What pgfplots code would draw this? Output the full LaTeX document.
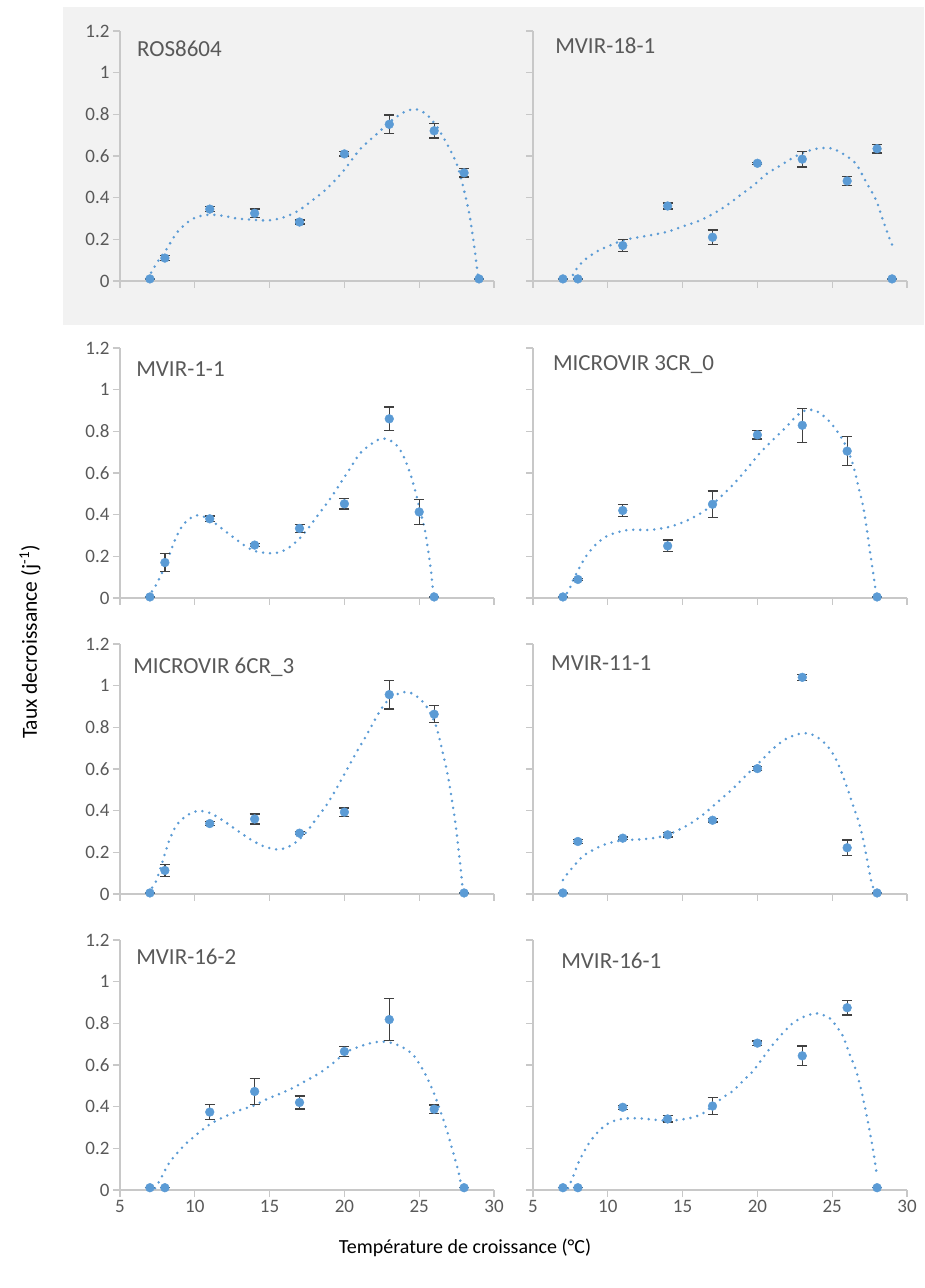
\documentclass[border=0pt]{standalone}
\usepackage{fontspec}
\setmainfont{Carlito}
\usepackage{pgfplots}
\pgfplotsset{compat=1.18}
\definecolor{ptblue}{HTML}{5B9BD5}
\definecolor{axisgray}{HTML}{C8C8C8}
\definecolor{labelgray}{HTML}{595959}
\definecolor{errgray}{HTML}{404040}
\definecolor{bggray}{HTML}{F2F2F2}
\pgfplotsset{
  panel/.style={
    scale only axis, width=374pt, height=250pt,
    xmin=5, xmax=30, ymin=0, ymax=1.2, enlargelimits=false,
    axis lines=left,
    axis line style={draw=axisgray, line width=1.2pt, -},
    x axis line style={-}, y axis line style={-},
    tick style={draw=axisgray, line width=1.2pt},
    tick align=outside, xtick align=outside, ytick align=outside,
    major tick length=7pt,
    xtick={5,10,15,20,25,30},
    ytick={0,0.2,0.4,0.6,0.8,1,1.2},
    tick label style={font=\fontsize{19}{21}\selectfont, text=labelgray},
    /pgf/number format/assume math mode=true,
    clip=false,
  },
  pts/.style={only marks, mark=*, mark size=4.4pt, mark options={fill=ptblue, draw=ptblue},
    error bars/.cd, y dir=both, y explicit,
    error bar style={draw=errgray, line width=1.3pt},
    error mark options={rotate=90, mark size=5pt, draw=errgray, line width=1.3pt}},
  trend/.style={smooth, draw=ptblue, line width=2.8pt, line cap=round, dash pattern=on 0pt off 7pt},
}
\newcommand{\ptitle}[3]{\node[anchor=west, inner sep=0pt, font=\fontsize{23}{26}\selectfont, text=labelgray] at (rel axis cs:#1,#2) {#3};}
\begin{document}
\begin{tikzpicture}
\useasboundingbox (0pt,0pt) rectangle (924pt,1288pt);
\fill[bggray] (63pt,963pt) rectangle (924pt,1281pt);

% Row 1 left: ROS8604
\begin{axis}[panel, at={(120pt,1007pt)}, anchor=south west, xticklabels={}]
\addplot[trend] coordinates {(6.85,0.011)(7.45,0.085)(8.12,0.154)(8.78,0.23)(9.45,0.278)(10.12,0.307)(10.97,0.318)(11.9,0.313)(12.79,0.30)(13.9,0.294)(15.02,0.291)(16.13,0.31)(17.02,0.342)(17.91,0.39)(18.81,0.442)(19.92,0.527)(21.03,0.631)(22.14,0.704)(23.25,0.776)(24.15,0.816)(24.81,0.824)(25.48,0.80)(26.15,0.744)(26.82,0.663)(27.48,0.567)(27.93,0.455)(28.38,0.31)(28.71,0.149)(28.95,0.011)};
\addplot[pts] coordinates {(7,0.01)+-(0,0)(8,0.11)+-(0,0.012)(11,0.345)+-(0,0.012)(14,0.325)+-(0,0.02)(17,0.283)+-(0,0.01)(20,0.61)+-(0,0.01)(23,0.752)+-(0,0.045)(26,0.721)+-(0,0.035)(28,0.519)+-(0,0.02)(29,0.01)+-(0,0)};
\ptitle{0.045}{0.93}{ROS8604}
\end{axis}

% Row 1 right: MVIR-18-1
\begin{axis}[panel, at={(533pt,1007pt)}, anchor=south west, xticklabels={}, yticklabels={}]
\addplot[trend] coordinates {(7.67,0.029)(8.01,0.068)(8.57,0.108)(9.23,0.14)(9.9,0.163)(11.02,0.195)(11.91,0.208)(12.8,0.219)(13.91,0.235)(15.03,0.262)(16.14,0.29)(17.03,0.322)(17.93,0.362)(18.82,0.41)(19.71,0.457)(20.6,0.513)(21.49,0.552)(22.38,0.592)(23.27,0.621)(24.16,0.637)(25.05,0.635)(25.94,0.60)(26.61,0.56)(27.28,0.473)(27.95,0.386)(28.4,0.29)(28.84,0.203)(29.11,0.156)};
\addplot[pts] coordinates {(7,0.01)+-(0,0)(8,0.01)+-(0,0)(11,0.17)+-(0,0.03)(14,0.36)+-(0,0.015)(17,0.21)+-(0,0.035)(20,0.565)+-(0,0.005)(23,0.585)+-(0,0.038)(26,0.48)+-(0,0.02)(28,0.635)+-(0,0.02)(29,0.01)+-(0,0)};
\ptitle{0.059}{0.94}{MVIR-18-1}
\end{axis}

% Row 2 left: MVIR-1-1
\begin{axis}[panel, at={(120pt,690pt)}, anchor=south west, xticklabels={}]
\addplot[trend] coordinates {(6.85,0.005)(7.34,0.053)(7.89,0.134)(8.34,0.215)(8.78,0.296)(9.23,0.353)(9.67,0.381)(10.16,0.397)(10.79,0.385)(11.46,0.353)(12.12,0.316)(12.79,0.28)(13.46,0.245)(14.13,0.223)(15.02,0.215)(15.69,0.22)(16.35,0.245)(17.04,0.288)(17.69,0.345)(18.36,0.41)(19.03,0.474)(19.7,0.547)(20.36,0.62)(21.03,0.693)(21.7,0.734)(22.37,0.763)(22.92,0.761)(23.48,0.734)(23.92,0.685)(24.37,0.604)(24.7,0.523)(25.04,0.426)(25.37,0.329)(25.59,0.232)(25.81,0.118)(25.95,0.005)};
\addplot[pts] coordinates {(7,0.005)+-(0,0)(8,0.17)+-(0,0.043)(11,0.38)+-(0,0.013)(14,0.254)+-(0,0.006)(17,0.334)+-(0,0.02)(20,0.452)+-(0,0.025)(23,0.86)+-(0,0.057)(25,0.413)+-(0,0.06)(26,0.005)+-(0,0)};
\ptitle{0.043}{0.915}{MVIR-1-1}
\end{axis}

% Row 2 right: MICROVIR 3CR_0
\begin{axis}[panel, at={(533pt,690pt)}, anchor=south west, xticklabels={}, yticklabels={}]
\addplot[trend] coordinates {(6.89,0.005)(7.34,0.029)(7.67,0.084)(8.12,0.148)(8.57,0.203)(9.23,0.259)(9.9,0.295)(10.57,0.314)(11.46,0.327)(12.8,0.327)(13.91,0.338)(14.8,0.357)(15.7,0.386)(16.59,0.425)(17.48,0.481)(18.37,0.544)(19.26,0.616)(20.15,0.695)(21.04,0.759)(21.94,0.822)(22.6,0.873)(23.27,0.902)(23.94,0.897)(24.61,0.862)(25.28,0.806)(25.94,0.727)(26.39,0.64)(26.72,0.544)(27.06,0.441)(27.28,0.346)(27.5,0.235)(27.73,0.124)(27.95,0.013)};
\addplot[pts] coordinates {(7,0.005)+-(0,0)(8,0.089)+-(0,0.006)(11,0.42)+-(0,0.03)(14,0.25)+-(0,0.028)(17,0.45)+-(0,0.063)(20,0.783)+-(0,0.02)(23,0.829)+-(0,0.082)(26,0.705)+-(0,0.07)(28,0.005)+-(0,0)};
\ptitle{0.053}{0.935}{MICROVIR 3CR\_0}
\end{axis}

% Row 3 left: MICROVIR 6CR_3
\begin{axis}[panel, at={(120pt,394pt)}, anchor=south west, xticklabels={}]
\addplot[trend] coordinates {(6.85,0.005)(7.34,0.051)(7.67,0.115)(8.01,0.195)(8.34,0.266)(8.78,0.33)(9.34,0.37)(9.9,0.393)(10.34,0.399)(11.01,0.389)(11.68,0.362)(12.35,0.33)(13.13,0.29)(13.91,0.254)(14.68,0.227)(15.46,0.214)(16.13,0.222)(16.8,0.251)(17.47,0.298)(18.13,0.362)(18.8,0.426)(19.47,0.506)(20.14,0.594)(20.81,0.681)(21.47,0.761)(22.14,0.849)(22.7,0.913)(23.25,0.948)(23.92,0.969)(24.48,0.964)(25.04,0.937)(25.59,0.889)(26.15,0.801)(26.59,0.673)(26.93,0.562)(27.26,0.418)(27.48,0.306)(27.71,0.163)(27.89,0.035)};
\addplot[pts] coordinates {(7,0.005)+-(0,0)(8,0.113)+-(0,0.028)(11,0.338)+-(0,0.01)(14,0.36)+-(0,0.024)(17,0.292)+-(0,0.007)(20,0.393)+-(0,0.02)(23,0.957)+-(0,0.069)(26,0.863)+-(0,0.041)(28,0.005)+-(0,0)};
\ptitle{0.035}{0.908}{MICROVIR 6CR\_3}
\end{axis}

% Row 3 right: MVIR-11-1
\begin{axis}[panel, at={(533pt,394pt)}, anchor=south west, xticklabels={}, yticklabels={}]
\addplot[trend] coordinates {(7.0,0.067)(7.23,0.091)(7.79,0.139)(8.34,0.182)(9.01,0.211)(9.68,0.235)(10.46,0.251)(11.24,0.259)(12.13,0.262)(13.02,0.268)(13.91,0.282)(14.8,0.31)(15.7,0.346)(16.59,0.394)(17.48,0.45)(18.37,0.506)(19.25,0.57)(20.15,0.633)(21.04,0.697)(21.93,0.745)(22.83,0.769)(23.49,0.769)(24.16,0.745)(24.83,0.697)(25.39,0.626)(25.94,0.522)(26.39,0.426)(26.84,0.33)(27.17,0.227)(27.39,0.142)(27.62,0.059)(27.84,0.011)};
\addplot[pts] coordinates {(7,0.005)+-(0,0)(8,0.252)+-(0,0.01)(11,0.268)+-(0,0.006)(14,0.284)+-(0,0.01)(17,0.354)+-(0,0.008)(20,0.602)+-(0,0.01)(23,1.04)+-(0,0.015)(26,0.222)+-(0,0.037)(28,0.005)+-(0,0)};
\ptitle{0.048}{0.924}{MVIR-11-1}
\end{axis}

% Row 4 left: MVIR-16-2
\begin{axis}[panel, at={(120pt,98pt)}, anchor=south west]
\addplot[trend] coordinates {(7.34,0.008)(7.67,0.047)(8.01,0.095)(8.34,0.135)(8.78,0.174)(9.34,0.218)(9.9,0.253)(10.57,0.293)(11.23,0.325)(12.12,0.356)(13.01,0.383)(13.9,0.404)(14.79,0.435)(15.69,0.462)(16.58,0.491)(17.47,0.526)(18.36,0.562)(19.25,0.609)(20.14,0.662)(21.03,0.689)(21.92,0.708)(22.59,0.712)(23.25,0.704)(23.92,0.684)(24.59,0.649)(25.04,0.602)(25.48,0.546)(25.93,0.475)(26.37,0.388)(26.82,0.293)(27.26,0.182)(27.6,0.095)(27.82,0.016)};
\addplot[pts] coordinates {(7,0.011)+-(0,0)(8,0.011)+-(0,0)(11,0.374)+-(0,0.035)(14,0.473)+-(0,0.062)(17,0.42)+-(0,0.031)(20,0.665)+-(0,0.024)(23,0.818)+-(0,0.1)(26,0.388)+-(0,0.02)(28,0.011)+-(0,0)};
\ptitle{0.043}{0.933}{MVIR-16-2}
\end{axis}

% Row 4 right: MVIR-16-1
\begin{axis}[panel, at={(533pt,98pt)}, anchor=south west, yticklabels={}]
\addplot[trend] coordinates {(7.34,0.008)(7.67,0.063)(8.01,0.127)(8.34,0.175)(8.79,0.23)(9.34,0.278)(9.9,0.314)(10.46,0.333)(11.13,0.343)(12.13,0.344)(13.02,0.338)(13.91,0.333)(14.8,0.337)(15.7,0.349)(16.36,0.368)(17.03,0.405)(17.7,0.444)(18.37,0.476)(19.04,0.524)(19.71,0.571)(20.37,0.635)(21.04,0.698)(21.71,0.754)(22.38,0.802)(23.05,0.83)(23.72,0.846)(24.16,0.846)(24.83,0.825)(25.28,0.786)(25.72,0.738)(26.17,0.651)(26.61,0.571)(26.95,0.476)(27.28,0.365)(27.62,0.238)(27.84,0.143)(28.0,0.063)};
\addplot[pts] coordinates {(7,0.011)+-(0,0)(8,0.011)+-(0,0)(11,0.397)+-(0,0.01)(14,0.341)+-(0,0.015)(17,0.403)+-(0,0.04)(20,0.705)+-(0,0.01)(23,0.644)+-(0,0.047)(26,0.875)+-(0,0.035)(28,0.011)+-(0,0)};
\ptitle{0.075}{0.915}{MVIR-16-1}
\end{axis}

\node[rotate=90, font=\fontsize{21.5}{24}\selectfont] at (30pt,646pt) {Taux decroissance (j\textsuperscript{-1})};
\node[font=\fontsize{20}{23}\selectfont] at (465pt,40pt) {Température de croissance (°C)};
\end{tikzpicture}
\end{document}
